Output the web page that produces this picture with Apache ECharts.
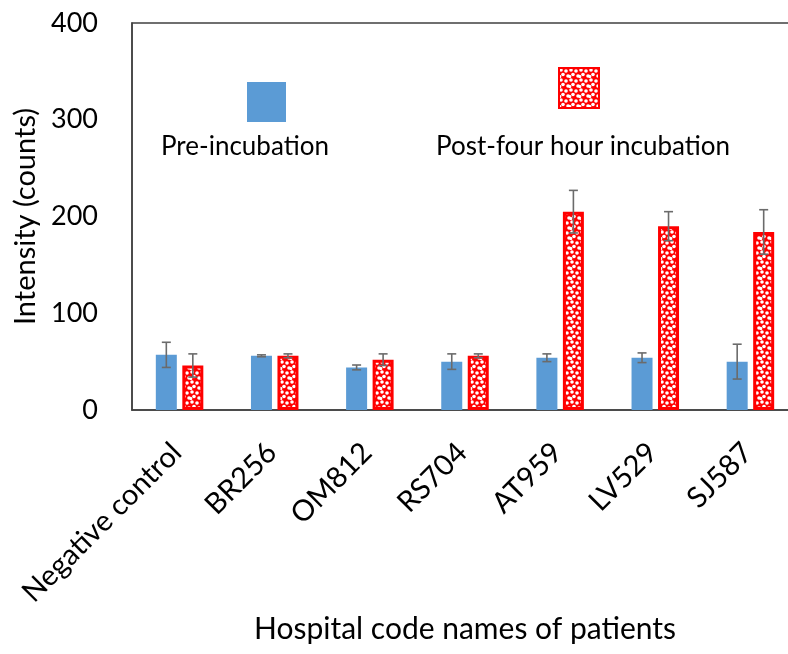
<!DOCTYPE html>
<html>
<head>
<meta charset="utf-8">
<script src="https://cdn.jsdelivr.net/npm/echarts@6/dist/echarts.min.js"></script>
<style>
html,body{margin:0;padding:0;background:#fff;}
#chart{width:788px;height:654px;}
</style>
</head>
<body>
<div id="chart"></div>
<script>
const categories = ['Negative control', 'BR256', 'OM812', 'RS704', 'AT959', 'LV529', 'SJ587'];
const preValues = [57, 56, 44, 50, 54, 54, 50];
const preErrors = [13, 1, 2.5, 8, 4, 5, 18];
const postValues = [46, 56, 52, 56, 205, 190, 184];
const postErrors = [12, 2, 6, 2, 22, 15, 23];
const yTicks = [0, 100, 200, 300, 400];
const seriesNames = ['Pre-incubation', 'Post-four hour incubation'];

const FONT = 'Lato';
const BAR_W = 21;
const GAP = 5.5;
const OFF = (BAR_W + GAP) / 2;

// dotted texture for the post-incubation bars
function makePattern() {
  const c = document.createElement('canvas');
  c.width = 10; c.height = 10;
  const ctx = c.getContext('2d');
  ctx.fillStyle = '#ff0000';
  ctx.fillRect(0, 0, 10, 10);
  ctx.fillStyle = '#ffffff';
  const dots = [[2, 2], [7, 3], [4, 6.5], [9, 8], [0.5, 8.5]];
  dots.forEach(d => { ctx.beginPath(); ctx.arc(d[0], d[1], 1.8, 0, Math.PI * 2); ctx.fill(); });
  return c;
}
const pattern = { image: makePattern(), repeat: 'repeat' };

function errData(vals, errs) {
  return vals.map((v, i) => [i, v - errs[i], v + errs[i]]);
}

function errSeries(vals, errs, offset) {
  return {
    type: 'custom',
    z: 10,
    silent: true,
    data: errData(vals, errs),
    encode: { x: 0, y: [1, 2] },
    renderItem: function (params, api) {
      const cx = api.coord([api.value(0), 0])[0] + offset;
      const yLo = api.coord([api.value(0), api.value(1)])[1];
      const yHi = api.coord([api.value(0), api.value(2)])[1];
      const cap = 4.5;
      const st = { stroke: '#6b6b6b', lineWidth: 1.6 };
      return {
        type: 'group',
        children: [
          { type: 'line', shape: { x1: cx, y1: yLo, x2: cx, y2: yHi }, style: st },
          { type: 'line', shape: { x1: cx - cap, y1: yHi, x2: cx + cap, y2: yHi }, style: st },
          { type: 'line', shape: { x1: cx - cap, y1: yLo, x2: cx + cap, y2: yLo }, style: st }
        ]
      };
    }
  };
}

const chart = echarts.init(document.getElementById('chart'), null, { renderer: 'canvas' });
chart.setOption({
  backgroundColor: '#ffffff',
  animation: false,
  textStyle: { fontFamily: FONT },
  grid: {
    left: 132, right: -10, top: 23, bottom: 244, containLabel: false, outerBoundsMode: 'none',
    show: true, borderColor: '#404040', borderWidth: 1.5, backgroundColor: 'transparent'
  },
  legend: [
    {
      data: [seriesNames[0]], left: 247, top: 82, padding: 0,
      itemWidth: 39, itemHeight: 40, icon: 'rect', selectedMode: false,
      formatter: function () { return ''; }
    },
    {
      data: [seriesNames[1]], left: 558, top: 67, padding: 0,
      itemWidth: 40, itemHeight: 40, icon: 'rect', selectedMode: false,
      itemStyle: { borderColor: '#ff0000', borderWidth: 2 },
      formatter: function () { return ''; }
    }
  ],
  graphic: [
    { type: 'text', left: 161, top: 134, style: { text: seriesNames[0], font: '26px ' + FONT, fill: '#000' } },
    { type: 'text', left: 436, top: 134, style: { text: seriesNames[1], font: '26px ' + FONT, fill: '#000' } }
  ],
  xAxis: {
    type: 'category',
    data: categories,
    name: 'Hospital code names of patients',
    nameLocation: 'middle',
    nameGap: 200,
    nameTextStyle: { fontSize: 30, color: '#000', fontFamily: FONT },
    axisLine: { lineStyle: { color: '#404040', width: 1.5 } },
    axisTick: { show: false },
    axisLabel: { rotate: 45, fontSize: 29, color: '#000', margin: 35, padding: [0, 4, 0, 0], fontFamily: FONT, interval: 0 }
  },
  yAxis: {
    type: 'value',
    min: yTicks[0],
    max: yTicks[yTicks.length - 1],
    interval: 100,
    name: 'Intensity (counts)',
    nameLocation: 'middle',
    nameGap: 91,
    nameRotate: 90,
    nameTextStyle: { fontSize: 29, color: '#000', fontFamily: FONT },
    axisLine: { show: true, lineStyle: { color: '#404040', width: 1.5 } },
    axisTick: { show: false },
    splitLine: { show: false },
    axisLabel: { fontSize: 27, color: '#000', margin: 34, fontFamily: FONT }
  },
  series: [
    {
      name: seriesNames[0], type: 'bar', data: preValues,
      barWidth: BAR_W, barGap: (GAP / BAR_W * 100).toFixed(1) + '%',
      itemStyle: { color: '#5b9bd5' }
    },
    {
      name: seriesNames[1], type: 'bar', data: postValues,
      barWidth: BAR_W,
      itemStyle: { color: pattern, borderColor: '#ff0000', borderWidth: 3 }
    },
    errSeries(preValues, preErrors, -OFF),
    errSeries(postValues, postErrors, OFF)
  ]
});
</script>
</body>
</html>
